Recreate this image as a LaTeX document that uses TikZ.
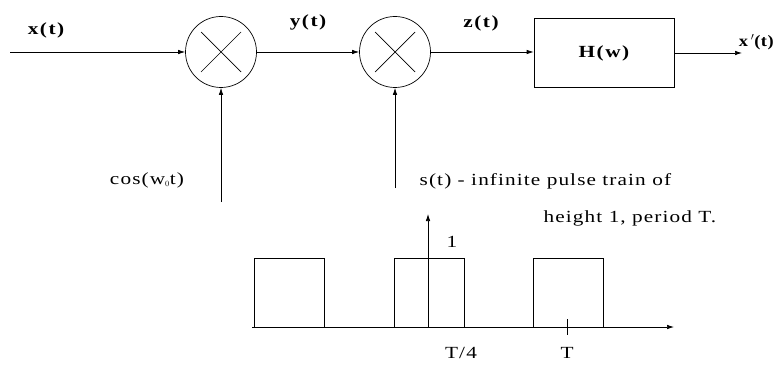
\documentclass[tikz,border=0pt]{standalone}
\usepackage{fontspec}
\setmainfont{Liberation Serif}
\newfontfamily\wideserif[FakeStretch=1.25,LetterSpace=6.5]{Liberation Serif}
\newfontfamily\widebold[FakeStretch=1.25,LetterSpace=9]{Liberation Serif}
\newfontfamily\narrowbold[FakeStretch=1.15,LetterSpace=3]{Liberation Serif}
\usetikzlibrary{arrows.meta}
\begin{document}
\begin{tikzpicture}[x=1pt,y=-1pt,
  line width=0.7pt,
  arr/.style={-{Latex[length=7pt,width=4.5pt]}},
  mult/.style={draw,circle,minimum size=71pt,inner sep=0pt},
  blockbox/.style={draw,minimum width=140pt,minimum height=69pt,font=\widebold\fontsize{17}{19}\selectfont\bfseries},
  lbl/.style={font=\widebold\fontsize{17}{19}\selectfont\bfseries},
  txt/.style={font=\wideserif\fontsize{17}{19}\selectfont},
  pulse/.style={line width=0.7pt}]
\useasboundingbox (0,0) rectangle (775,366);
% main chain
\coordinate (in) at (10,52);
\node[mult] (m1) at (221,52) {};
\node[mult] (m2) at (395,52) {};
\node[blockbox] (h) at (604,53) {H(w)};
\coordinate (out) at (742,53);
\draw (m1.center) ++(-20,-20) -- ++(40,40) ++(0,-40) -- ++(-40,40);
\draw (m2.center) ++(-20,-20) -- ++(40,40) ++(0,-40) -- ++(-40,40);
\draw[arr] (in) -- (m1);
\draw[arr] (m1) -- (m2);
\draw[arr] (m2) -- (h.west |- m2);
\draw[arr] (h.east) -- (out);
\node[lbl] (lx) at (46,30) {x(t)};
\node[lbl] (ly) at (308,22) {y(t)};
\node[lbl] (lz) at (481,23) {z(t)};
\node[font=\narrowbold\fontsize{16}{18}\selectfont\bfseries,anchor=east,inner sep=1pt] (lxo) at (775,42) {x\,$'$(t)};
% vertical inputs
\coordinate (c1) at (221,202);
\coordinate (c2) at (395,188);
\draw[arr] (c1) -- (m1.south);
\draw[arr] (c2) -- (m2.south);
\node[txt] (lcos) at (147,180) {cos(w$_{\scriptscriptstyle 0}$t)};
% pulse train
\coordinate (ax0) at (252,327);
\coordinate (ax1) at (674,327);
\coordinate (vy0) at (428,327);
\coordinate (vy1) at (428,214);
\draw[arr] (ax0) -- (ax1);
\draw[arr] (vy0) -- (vy1);
\draw[pulse] (254,327) -- (254,258) -- (324,258) -- (324,327);
\draw[pulse] (394,327) -- (394,258) -- (464,258) -- (464,327);
\draw[pulse] (533,327) -- (533,258) -- (603,258) -- (603,327);
\coordinate (tk0) at (567,319);
\coordinate (tk1) at (567,335);
\draw (tk0) -- (tk1);
\node[txt] (one) at (452,242) {1};
\node[txt] (tq) at (461,353) {T/4};
\node[txt] (tT) at (567,353) {T};
\node[txt,anchor=west] (s1) at (416,181) {s(t) - infinite pulse train of};
\node[txt,anchor=west] (s2) at (540,218) {height 1, period T.};
\end{tikzpicture}
\end{document}
